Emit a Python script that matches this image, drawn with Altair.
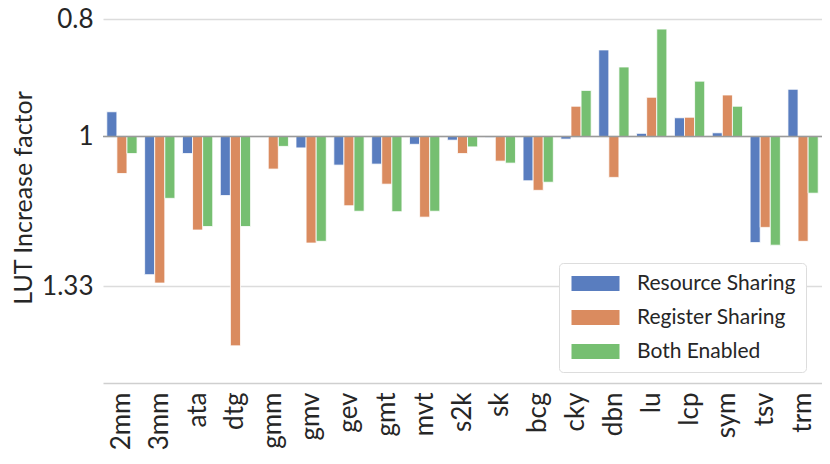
import altair as alt
import pandas as pd

benchmarks = ["2mm", "3mm", "ata", "dtg", "gmm", "gmv", "gev", "gmt", "mvt", "s2k",
              "sk", "bcg", "cky", "dbn", "lu", "lcp", "sym", "tsv", "trm"]
resource_sharing = [0.954, 1.301, 1.033, 1.119, 1.000, 1.022, 1.056, 1.054, 1.015, 1.007,
                    1.002, 1.088, 1.005, 0.848, 0.994, 0.965, 0.993, 1.224, 0.914]
register_sharing = [1.073, 1.322, 1.195, 1.490, 1.064, 1.225, 1.141, 1.095, 1.166, 1.033,
                    1.048, 1.108, 0.944, 1.081, 0.928, 0.964, 0.924, 1.189, 1.221]
both_enabled = [1.033, 1.125, 1.187, 1.187, 1.019, 1.221, 1.153, 1.154, 1.153, 1.020,
                1.052, 1.091, 0.916, 0.876, 0.815, 0.900, 0.944, 1.230, 1.114]
series = ["Resource Sharing", "Register Sharing", "Both Enabled"]
colors = ["#597dbf", "#da8b5f", "#76bf71"]
y_ticks = [0.8, 1, 1.33]
baseline = [1]

rows = []
for s, vals in zip(series, [resource_sharing, register_sharing, both_enabled]):
    for b, v in zip(benchmarks, vals):
        rows.append({"bench": b, "series": s, "value": v, "base": baseline[0]})
df = pd.DataFrame(rows)

FONT = "Lato"
TXT = "#262626"

yscale = alt.Scale(type="log", domain=[0.7889, 1.5992], reverse=True, nice=False)

bars = alt.Chart(df).mark_bar(stroke="white", strokeWidth=0.8).encode(
    x=alt.X("bench:N", sort=benchmarks,
            scale=alt.Scale(paddingInner=0.2, paddingOuter=0.1),
            axis=alt.Axis(title=None, labelAngle=-90, labelFontSize=26, labelColor=TXT,
                          labelFont=FONT, ticks=False, labelPadding=9, grid=False,
                          domainColor="#cfcfcf", domainWidth=1.3)),
    xOffset=alt.XOffset("series:N", sort=series,
                        scale=alt.Scale(paddingInner=0, paddingOuter=0)),
    y=alt.Y("value:Q", scale=yscale,
            axis=alt.Axis(title="LUT Increase factor", values=y_ticks, format=".3~g",
                          labelFontSize=26, labelColor=TXT, labelFont=FONT,
                          titleFontSize=25, titleFont=FONT, titleFontWeight="normal",
                          titleColor=TXT, titlePadding=5, labelPadding=10,
                          ticks=False, domain=False, grid=True,
                          gridColor="#dcdcdc", gridWidth=1.3)),
    y2="base:Q",
    color=alt.Color("series:N", sort=series,
                    scale=alt.Scale(domain=series, range=colors),
                    legend=alt.Legend(title=None, orient="none", legendX=456, legendY=251,
                                      symbolType="M-3,-0.94H3V0.94H-3Z", symbolSize=256,
                                      symbolOffset=16, symbolStrokeWidth=0,
                                      labelFontSize=21, labelFont=FONT, labelColor=TXT,
                                      labelOffset=31, padding=10, rowPadding=12,
                                      fillColor="white", strokeColor="#dddddd",
                                      cornerRadius=4)),
)

rule = alt.Chart(pd.DataFrame({"base": baseline})).mark_rule(
    color="#9a9a9a", strokeWidth=1.5).encode(y=alt.Y("base:Q", scale=yscale))

chart = alt.layer(bars, rule).properties(
    width=719, height=371,
    autosize=alt.AutoSizeParams(type="none"),
    padding={"left": 95, "top": 4, "right": 0, "bottom": 73},
).configure_view(stroke=None)

chart.save("out.html", embed_options={"renderer": "svg", "actions": False})
